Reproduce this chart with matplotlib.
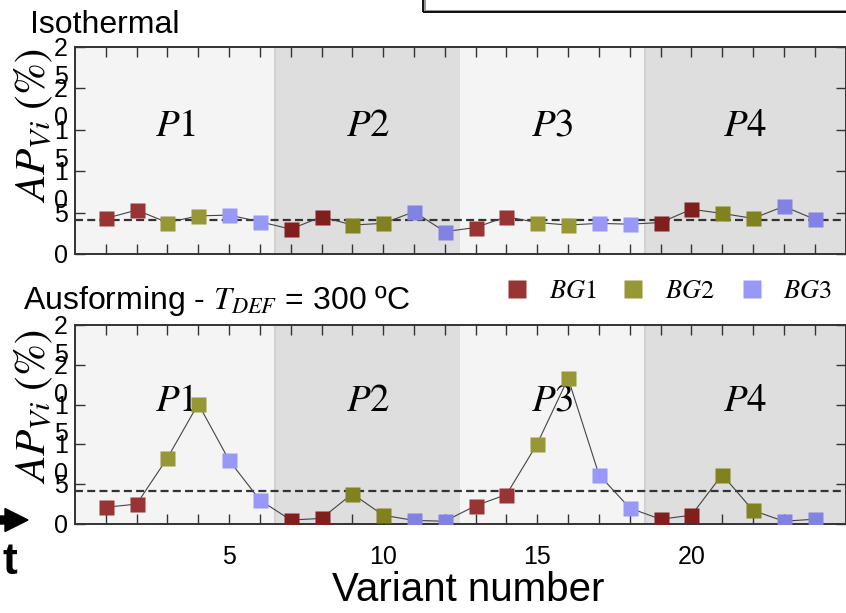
import matplotlib
matplotlib.use("Agg")
import matplotlib.pyplot as plt
import matplotlib.transforms as mtransforms
from matplotlib.lines import Line2D
from matplotlib.patches import FancyArrow, Rectangle

plt.rcParams["font.family"] = ["Liberation Sans", "DejaVu Sans"]
plt.rcParams["mathtext.fontset"] = "stix"

# variant numbers 1..24, Bain group of each variant
variants = list(range(1, 25))
bain_group = [1, 1, 2, 2, 3, 3] * 4

# area fraction of each variant (%)
ap_isothermal = [4.3, 5.3, 3.8, 4.6, 4.7, 3.9, 3.0, 4.5, 3.5, 3.7, 5.1, 2.7,
                 3.2, 4.5, 3.8, 3.5, 3.7, 3.6, 3.8, 5.4, 4.9, 4.3, 5.75, 4.2]
ap_ausforming = [2.1, 2.5, 8.3, 15.1, 8.0, 3.0, 0.5, 0.7, 3.8, 1.1, 0.45, 0.35,
                 2.3, 3.7, 10.1, 18.3, 6.2, 2.0, 0.6, 1.1, 6.2, 1.7, 0.35, 0.6]
random_level = 100.0 / 24

# packet regions: (start, end, name)
packets = [(0, 6.5, "P1"), (6.5, 12.5, "P2"), (12.5, 18.5, "P3"), (18.5, 25, "P4")]

group_labels = ["$BG1$", "$BG2$", "$BG3$"]
colors_light = {1: "#983434", 2: "#979734", 3: "#9898f8"}
colors_dark = {1: "#811e1e", 2: "#818120", 3: "#8282e2"}

y_ticks = [0, 5, 10, 15, 20, 25]
y_ticklabels = ["0", "5", "1\n0", "1\n5", "2\n0", "2\n5"]

W, H = 846, 613
fig = plt.figure(figsize=(W / 100, H / 100), dpi=100)


def panel(top_px, bot_px, values, ylabel_y):
    ax = fig.add_axes([75 / W, (H - bot_px) / H, 770.5 / W, (bot_px - top_px) / H])
    for i, (x0, x1, name) in enumerate(packets):
        dark = i % 2 == 1
        ax.axvspan(x0, x1, color="#dedede" if dark else "#f4f4f4", lw=0, zorder=0)
        if dark:
            ax.axvline(x0, color="#d2d2d2", lw=1.5, zorder=0.5)
        ax.text((x0 + x1) / 2, 15.5, "$" + name + "$", ha="center", va="center",
                fontsize=28, zorder=1)

    ax.axhline(random_level, color="#333333", lw=1.6, ls=(0, (3.6, 1.9)), zorder=2)
    ax.plot(variants, values, color="#444444", lw=0.8, zorder=3)
    for v, val, g in zip(variants, values, bain_group):
        dark = any(x0 < v < x1 for i, (x0, x1, _) in enumerate(packets) if i % 2 == 1)
        c = colors_dark[g] if dark else colors_light[g]
        ax.plot(v, val, "s", ms=10.8, color=c, mec="none", zorder=4)

    ax.set_xlim(0, 25)
    ax.set_ylim(0, 25)
    ax.set_xticks([5, 10, 15, 20])
    ax.set_xticks(variants, minor=True)
    ax.set_yticks(y_ticks)
    ax.set_yticklabels([])
    ax.tick_params(which="both", direction="in", top=True, right=True,
                   length=7, width=1, color="#333333", labelsize=18, pad=15)
    for s in ax.spines.values():
        s.set_color("#333333")
        s.set_linewidth(1.4)

    # wrapped y tick labels, first line level with the tick
    trans = mtransforms.blended_transform_factory(ax.transAxes, ax.transData)
    trans = trans + mtransforms.ScaledTranslation(0, 0.10, fig.dpi_scale_trans)
    for v, lab in zip(y_ticks, y_ticklabels):
        ax.text(-0.009, v, lab, transform=trans, ha="right", va="top",
                fontsize=18, linespacing=1.2)

    ax.text(-0.054, ylabel_y, r"$AP_{Vi}\ (\%)$", transform=ax.transAxes,
            rotation=90, ha="center", va="center", fontsize=31)
    return ax


ax_top = panel(47, 254, ap_isothermal, 0.618)
ax_top.set_xticklabels([])
ax_bot = panel(325, 524, ap_ausforming, 0.588)

fig.text(30 / W, 1 - 25 / H, "Isothermal", fontsize=23, ha="left", va="center")
fig.text(23 / W, 1 - 301 / H, "Ausforming - $T_{DEF}$ = 300 ºC", fontsize=23,
         ha="left", va="center")
fig.text(468 / W, 1 - 590 / H, "Variant number", fontsize=29, ha="center", va="center")

handles = [Line2D([], [], ls="none", marker="s", ms=12.5, color=colors_light[g], mec="none")
           for g in (1, 2, 3)]
fig.legend(handles, group_labels, loc="center", bbox_to_anchor=(668 / W, 1 - 291 / H),
           ncol=3, frameon=False, fontsize=19, handlelength=1.0, handletextpad=0.7,
           columnspacing=0.9)

# pieces of the neighbouring figure elements
fig.add_artist(Rectangle((424.5 / W, 1 - 11 / H), 1, 1, transform=fig.transFigure,
                         fill=False, ec="#999999", lw=1.5))
fig.add_artist(Rectangle((423 / W, 1 - 12 / H), 1, 1, transform=fig.transFigure,
                         fill=False, ec="black", lw=1.3))
fig.add_artist(FancyArrow(-0.05, (H - 520) / 100, 0.33, 0, width=0.08,
                          head_width=0.23, head_length=0.23, length_includes_head=True,
                          color="black", transform=fig.dpi_scale_trans))
fig.text(10 / W, 1 - 563 / H, "t", fontsize=32, fontweight="bold", ha="center", va="center")

fig.savefig("out.png", dpi=100)
